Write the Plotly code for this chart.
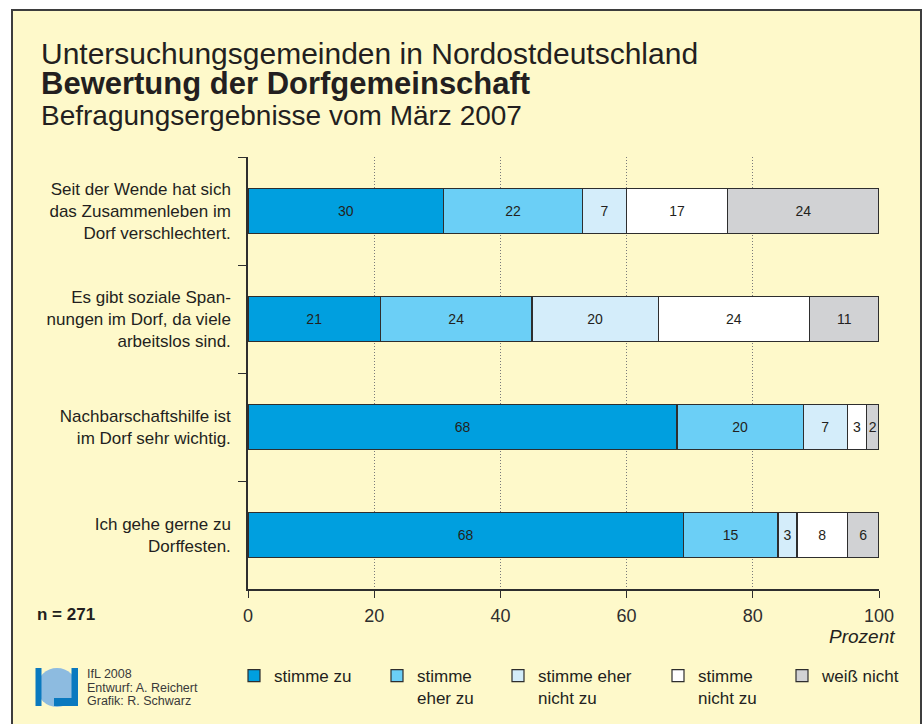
import plotly.graph_objects as go

# ---------------------------------------------------------------
# Data: Befragung März 2007, Untersuchungsgemeinden Nordostdeutschland
# ---------------------------------------------------------------

statements = [
    "Seit der Wende hat sich<br>das Zusammenleben im<br>Dorf verschlechtert.",
    "Es gibt soziale Span-<br>nungen im Dorf, da viele<br>arbeitslos sind.",
    "Nachbarschaftshilfe ist<br>im Dorf sehr wichtig.",
    "Ich gehe gerne zu<br>Dorffesten.",
]

answers = ["stimme zu", "stimme<br>eher zu", "stimme eher<br>nicht zu",
           "stimme<br>nicht zu", "weiß nicht"]

# segment widths as drawn (Prozent)
stimme_zu = [31, 21, 68, 69]
eher_zu = [22, 24, 20, 15]
eher_nicht = [7, 20, 7, 3]
nicht_zu = [16, 24, 3, 8]
weiss_nicht = [24, 11, 2, 5]

# numbers printed inside the segments
lbl_stimme_zu = [30, 21, 68, 68]
lbl_eher_zu = [22, 24, 20, 15]
lbl_eher_nicht = [7, 20, 7, 3]
lbl_nicht_zu = [17, 24, 3, 8]
lbl_weiss_nicht = [24, 11, 2, 6]

x_ticks = [0, 20, 40, 60, 80, 100]
n_total = 271

# ---------------------------------------------------------------
# Style
# ---------------------------------------------------------------

FONT = "Liberation Sans, Arial, Helvetica, sans-serif"
TEXT = "#231f20"
CREAM = "#fef9ca"
colors = ["#009fdf", "#6bcff6", "#d4edfa", "#ffffff", "#d1d2d4"]

W, H = 924, 724
L, R, T, B = 248, 45, 157, 135


def px(x):
    # screen pixel x -> paper x
    return (x - L) / (W - L - R)


def py(y):
    # screen pixel y -> paper y
    return (H - B - y) / (H - T - B)


series = [stimme_zu, eher_zu, eher_nicht, nicht_zu, weiss_nicht]
labels = [lbl_stimme_zu, lbl_eher_zu, lbl_eher_nicht, lbl_nicht_zu, lbl_weiss_nicht]
legend_x = [234, 377, 498, 658, 782]  # legend boxes (screen px)

fig = go.Figure()
for i, (vals, lbls, name, col) in enumerate(zip(series, labels, answers, colors)):
    fig.add_trace(go.Bar(
        x=vals, y=statements, orientation="h", name=name,
        marker=dict(color=col, line=dict(color="#2e2e2e", width=1.2)),
        text=lbls, textposition="inside", insidetextanchor="middle", textangle=0,
        textfont=dict(size=14, color=TEXT, family=FONT),
        legend="legend" if i == 0 else f"legend{i + 1}",
        hoverinfo="skip",
    ))

# one legend box per answer so each can sit where the original has it
legends = {}
for i, lx in enumerate(legend_x):
    key = "legend" if i == 0 else f"legend{i + 1}"
    legends[key] = dict(
        xref="container", yref="container",
        x=lx / W, y=1 - 658 / H, xanchor="left", yanchor="top",
        bgcolor="rgba(0,0,0,0)", borderwidth=0, valign="top", visible=True,
        font=dict(size=17, color=TEXT, family=FONT),
    )

shapes = [
    # cream frame
    dict(type="rect", xref="paper", yref="paper", layer="below",
         x0=px(12), x1=px(921), y0=py(740), y1=py(10),
         fillcolor=CREAM, line=dict(color="#3d3d3d", width=2)),
    # IfL logo
    dict(type="circle", xref="paper", yref="paper", layer="above",
         x0=px(37), x1=px(77), y0=py(707), y1=py(668),
         fillcolor="#8dbbe0", line=dict(width=0)),
    dict(type="rect", xref="paper", yref="paper", layer="above",
         x0=px(35.5), x1=px(41.5), y0=py(706), y1=py(668),
         fillcolor="#0a79bf", line=dict(width=0)),
    dict(type="rect", xref="paper", yref="paper", layer="above",
         x0=px(71.5), x1=px(78), y0=py(706), y1=py(668),
         fillcolor="#0a79bf", line=dict(width=0)),
    dict(type="rect", xref="paper", yref="paper", layer="above",
         x0=px(54), x1=px(78), y0=py(706), y1=py(698),
         fillcolor="#0a79bf", line=dict(width=0)),
]

annotations = [
    dict(text="Untersuchungsgemeinden in Nordostdeutschland", x=px(39), y=py(53),
         font=dict(size=30, color=TEXT, family=FONT)),
    dict(text="<b>Bewertung der Dorfgemeinschaft</b>", x=px(39), y=py(83.5),
         font=dict(size=31, color=TEXT, family=FONT)),
    dict(text="Befragungsergebnisse vom März 2007", x=px(39), y=py(115.5),
         font=dict(size=28, color=TEXT, family=FONT)),
    dict(text=f"<b>n = {n_total}</b>", x=px(35), y=py(614),
         font=dict(size=17, color=TEXT, family=FONT)),
    dict(text="<i>Prozent</i>", x=px(897), y=py(636), xanchor="right",
         font=dict(size=19, color=TEXT, family=FONT)),
]
for j, line in enumerate(["IfL 2008", "Entwurf: A. Reichert", "Grafik: R. Schwarz"]):
    annotations.append(dict(text=line, x=px(85), y=py(674 + 13.5 * j),
                            font=dict(size=12.5, color="#3a3a3a", family=FONT)))
for a in annotations:
    a.update(xref="paper", yref="paper", showarrow=False)
    a.setdefault("xanchor", "left")
    a.setdefault("yanchor", "middle")

fig.update_layout(
    width=W, height=H, autosize=False, showlegend=True,
    margin=dict(l=L, r=R, t=T, b=B, pad=0, autoexpand=False),
    paper_bgcolor="#ffffff", plot_bgcolor="rgba(0,0,0,0)",
    barmode="stack", bargap=0.58,
    font=dict(family=FONT, color=TEXT),
    uniformtext=dict(minsize=14, mode="show"),
    shapes=shapes, annotations=annotations,
    **legends,
)
fig.update_xaxes(
    range=[0, 100], tickvals=x_ticks, ticks="outside", ticklen=7, tickwidth=1.3,
    tickcolor="#2e2e2e", showline=True, linecolor="#2e2e2e", linewidth=1.5,
    showgrid=True, griddash="1px,2px", gridcolor="#7a7a7a", gridwidth=1,
    zeroline=False, tickfont=dict(size=18, color="#2e2e2e", family=FONT),
    ticklabelstandoff=3, automargin=False,
)
fig.update_yaxes(
    autorange="reversed", tickson="boundaries", ticks="outside", ticklen=8,
    tickwidth=1.3, tickcolor="#2e2e2e", showline=True, linecolor="#2e2e2e",
    linewidth=1.5, showgrid=False, ticklabelstandoff=12,
    tickfont=dict(size=17, color=TEXT, family=FONT), automargin=False,
)

# drop the browser's default body margin so the figure fills the window
fig.write_html("out.html", config={"displayModeBar": False},
               post_script="document.body.style.margin='0';"
                           "document.body.style.overflow='hidden';")
